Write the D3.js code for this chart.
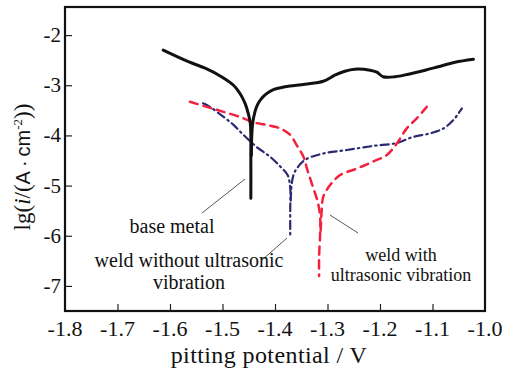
<!DOCTYPE html>
<html>
<head>
<meta charset="utf-8">
<script src="https://cdn.jsdelivr.net/npm/d3@7"></script>
<style>
  html, body { margin: 0; padding: 0; background: #fff; }
  svg { display: block; }
</style>
</head>
<body>
<svg id="chart" width="514" height="371"></svg>
<script>
// Potentiodynamic polarization curves: potential (V) vs lg(i)
const xTicks = [-1.8, -1.7, -1.6, -1.5, -1.4, -1.3, -1.2, -1.1, -1.0];
const yTicks = [-2, -3, -4, -5, -6, -7];

// base metal — cathodic branch (down to corrosion potential)
const baseCathV  = [-1.613, -1.565, -1.533, -1.502, -1.479, -1.467, -1.457, -1.451, -1.447, -1.446, -1.446];
const baseCathI  = [-2.30, -2.53, -2.66, -2.83, -3.00, -3.16, -3.36, -3.56, -3.76, -4.50, -5.25];
// base metal — anodic branch
const baseAnodV  = [-1.445, -1.443, -1.438, -1.433, -1.427, -1.419, -1.406, -1.381, -1.343, -1.308, -1.286, -1.267, -1.248, -1.219, -1.206, -1.194, -1.171, -1.146, -1.114, -1.089, -1.057, -1.022];
const baseAnodI  = [-4.40, -3.80, -3.52, -3.38, -3.28, -3.19, -3.10, -3.03, -2.98, -2.92, -2.80, -2.72, -2.68, -2.70, -2.74, -2.83, -2.83, -2.78, -2.70, -2.63, -2.54, -2.48];

// weld without ultrasonic vibration
const woCathV = [-1.537, -1.524, -1.498, -1.479, -1.460, -1.435, -1.410, -1.390, -1.376, -1.371, -1.371, -1.371];
const woCathI = [-3.36, -3.43, -3.63, -3.79, -3.99, -4.23, -4.42, -4.62, -4.79, -5.05, -5.49, -6.02];
const woAnodV = [-1.370, -1.368, -1.362, -1.343, -1.308, -1.263, -1.213, -1.168, -1.137, -1.105, -1.079, -1.060, -1.044];
const woAnodI = [-5.30, -4.95, -4.72, -4.49, -4.36, -4.29, -4.21, -4.15, -4.03, -3.96, -3.86, -3.69, -3.46];

// weld with ultrasonic vibration
const wCathV = [-1.562, -1.530, -1.498, -1.467, -1.441, -1.416, -1.390, -1.371, -1.359, -1.346, -1.338, -1.327, -1.318, -1.314, -1.314, -1.316, -1.316];
const wCathI = [-3.33, -3.43, -3.53, -3.63, -3.74, -3.79, -3.86, -3.99, -4.19, -4.42, -4.70, -5.05, -5.35, -5.62, -5.95, -6.42, -6.80];
const wAnodV = [-1.313, -1.311, -1.308, -1.295, -1.276, -1.244, -1.213, -1.187, -1.168, -1.149, -1.130, -1.111];
const wAnodI = [-5.90, -5.49, -5.22, -4.99, -4.79, -4.66, -4.52, -4.39, -4.16, -3.86, -3.66, -3.43];

const SERIF = "Liberation Serif";
const SANS = "Liberation Sans";

const svg = d3.select("#chart");
const plotLeft = 65, plotRight = 485, plotTop = 7, plotBottom = 311;

const x = d3.scaleLinear().domain([-1.8, -1.0]).range([plotLeft, plotRight]);
const y = d3.scaleLinear().domain([-7.5, -1.44]).range([plotBottom, plotTop]);

function label(px, py, str, size, anchor) {
  return svg.append("text").attr("x", px).attr("y", py).attr("text-anchor", anchor || "middle")
    .attr("font-family", SERIF).attr("font-size", size).attr("fill", "#111").text(str);
}

// x axis: inward ticks, labels placed below the frame
const xAxis = d3.axisBottom(x).tickValues(xTicks.slice(1, -1)).tickSizeInner(-7).tickSizeOuter(0)
  .tickFormat(() => "");
const gx = svg.append("g").attr("transform", `translate(0,${plotBottom})`).call(xAxis);
gx.select(".domain").remove();
gx.selectAll("line").attr("stroke", "#222").attr("stroke-width", 1.2);
xTicks.forEach(v => label(x(v), plotBottom + 25, v.toFixed(1), 22));

// y axis: inward ticks
const yAxis = d3.axisLeft(y).tickValues(yTicks).tickSizeInner(-7).tickSizeOuter(0)
  .tickFormat(() => "");
const gy = svg.append("g").attr("transform", `translate(${plotLeft},0)`).call(yAxis);
gy.select(".domain").remove();
gy.selectAll("line").attr("stroke", "#222").attr("stroke-width", 1.2);
yTicks.forEach(v => label(plotLeft - 4, y(v) + 7, String(v), 21, "end"));

// frame
svg.append("rect").attr("x", plotLeft).attr("y", plotTop).attr("width", plotRight - plotLeft).attr("height", plotBottom - plotTop)
  .attr("fill", "none").attr("stroke", "#111").attr("stroke-width", 2.2);

// curves
const line = d3.line().x(d => x(d[0])).y(d => y(d[1])).curve(d3.curveCatmullRom.alpha(0.5));
const zip = (a, b) => a.map((v, i) => [v, b[i]]);

function draw(v, i, color, width, dash) {
  svg.append("path").datum(zip(v, i)).attr("d", line)
    .attr("fill", "none").attr("stroke", color).attr("stroke-width", width)
    .attr("stroke-dasharray", dash).attr("stroke-linecap", "round").attr("stroke-linejoin", "round");
}

draw(woCathV, woCathI, "#2c2a6e", 2.2, "8,4,1.5,4");
draw(woAnodV, woAnodI, "#2c2a6e", 2.2, "8,4,1.5,4");
draw(wCathV, wCathI, "#f2223e", 2.5, "8,6");
draw(wAnodV, wAnodI, "#f2223e", 2.5, "8,6");
draw(baseCathV, baseCathI, "#111", 3, null);
draw(baseAnodV, baseAnodI, "#111", 3, null);

// annotations with leader lines
const leaders = [
  [[202, 213], [245, 179]],
  [[262, 260], [287, 238]],
  [[330, 215], [358, 233]]
];
leaders.forEach(l => {
  svg.append("line").attr("x1", l[0][0]).attr("y1", l[0][1]).attr("x2", l[1][0]).attr("y2", l[1][1])
    .attr("stroke", "#555").attr("stroke-width", 1);
});

label(172, 233, "base metal", 20);
label(189, 267, "weld without ultrasonic", 20);
label(189, 289, "vibration", 20);
label(401, 261, "weld with", 18);
label(401, 281, "ultrasonic vibration", 18);

// axis titles
label(269, 363, "pitting potential / V", 24).attr("letter-spacing", 0.4);

const yt = svg.append("text").attr("transform", "translate(30,167) rotate(-90)")
  .attr("text-anchor", "middle").attr("font-family", SERIF).attr("font-size", 23).attr("fill", "#111");
yt.append("tspan").text("lg(");
yt.append("tspan").attr("font-style", "italic").text("i");
yt.append("tspan").text("/(");
yt.append("tspan").attr("font-family", SANS).attr("font-size", 20).text("A\u2009·\u2009cm");
yt.append("tspan").attr("dy", -8).attr("font-size", 13).text("-2");
yt.append("tspan").attr("dy", 8).text("))");
</script>
</body>
</html>
